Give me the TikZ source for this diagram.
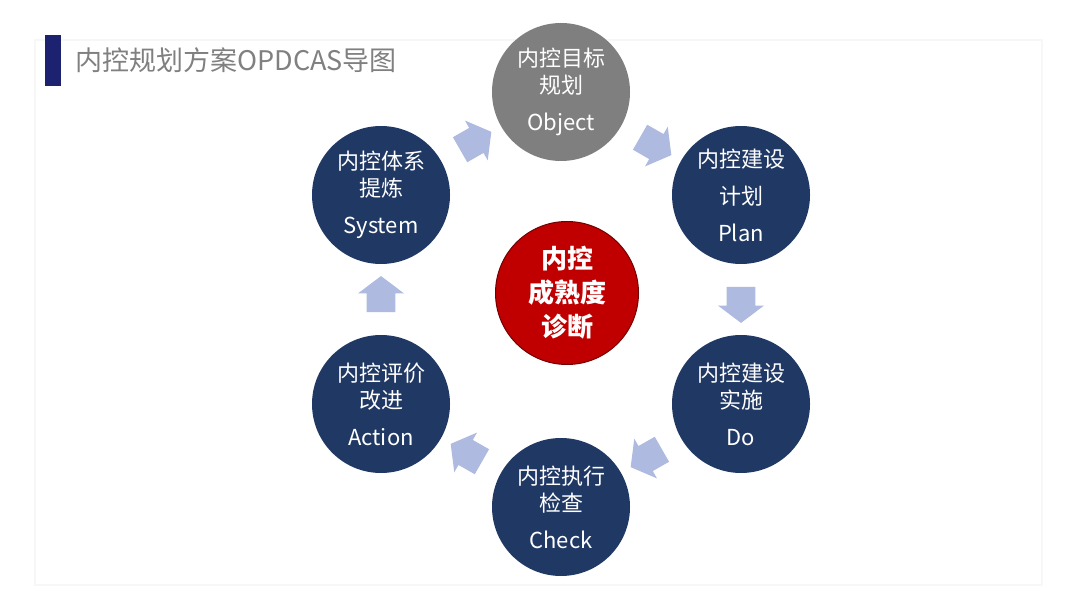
\documentclass[tikz,border=0pt]{standalone}
\usepackage{fontspec}
\setmainfont{Noto Sans CJK SC}
\usepackage{tikz}
\usepackage{xcolor}
\usetikzlibrary{shapes.arrows}

\definecolor{stagenavy}{HTML}{203864}
\definecolor{stagegray}{HTML}{7F7F7F}
\definecolor{corered}{HTML}{C00000}
\definecolor{flowblue}{HTML}{AEBADF}
\definecolor{titlebar}{HTML}{1C2170}
\definecolor{titlegray}{HTML}{808080}

\tikzset{
  stage/.style={circle, fill=stagenavy, text=white, minimum size=69pt, inner sep=0pt,
    align=center, font=\fontsize{11}{13.5}\selectfont},
  flowarrow/.style={single arrow, fill=flowblue, minimum height=18pt, minimum width=22.5pt,
    single arrow head extend=4.25pt, single arrow tip angle=106, inner xsep=0pt, inner ysep=7pt,
    sloped, allow upside down},
}

\begin{document}
\begin{tikzpicture}[x=0.5pt,y=-0.5pt]
    \useasboundingbox (0,0) rectangle (1080,608);

    % panel and title
    \draw[black!3, line width=1pt] (35,40) rectangle (1042,585);
    \fill[titlebar] (45,35) rectangle (61,86);
    \node[anchor=west, text=titlegray, inner sep=0pt, font=\fontsize{13.5}{16}\selectfont] (title) at (75,60) {内控规划方案OPDCAS导图};

    % six stages round the cycle
    \node[stage, fill=stagegray] (obj) at (561,92) {内控目标\\规划\\[5pt]Object};
    \node[stage] (plan) at (741,195) {内控建设\\[5pt]计划\\[5pt]Plan};
    \node[stage] (do) at (741,404) {内控建设\\实施\\[5pt]Do};
    \node[stage] (check) at (561,507) {内控执行\\检查\\[5pt]Check};
    \node[stage] (act) at (381,404) {内控评价\\改进\\[5pt]Action};
    \node[stage] (sys) at (381,195) {内控体系\\提炼\\[5pt]System};

    % centre
    \node[stage, fill=corered, draw=corered!60!black, line width=0.5pt, minimum size=71.5pt,
      font=\bfseries\fontsize{13}{17}\selectfont] (core) at (567,293) {内控\\成熟度\\诊断};

    % block arrows between stages
    \path (sys) -- node[flowarrow] {} (obj);
    \path (obj) -- node[flowarrow] {} (plan);
    \path (plan) -- node[flowarrow] {} (do);
    \path (do) -- node[flowarrow] {} (check);
    \path (check) -- node[flowarrow] {} (act);
    \path (act) -- node[flowarrow] {} (sys);
\end{tikzpicture}
\end{document}
